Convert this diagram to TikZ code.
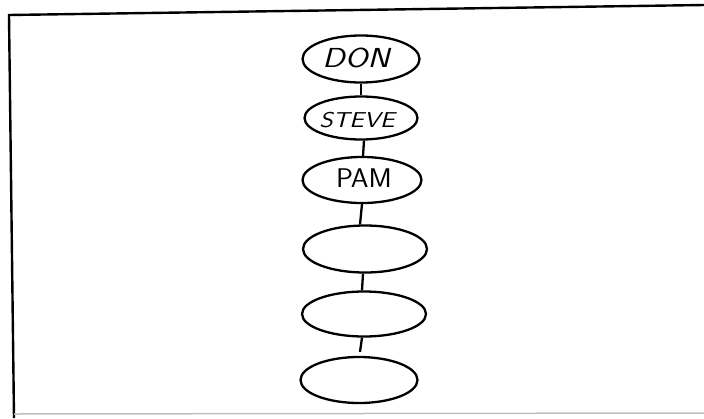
\documentclass[tikz,border=0pt]{standalone}
\usepackage{fontspec}
\usepackage{graphicx}
\usetikzlibrary{shapes.geometric}
\tikzset{
  oval/.style={draw=black, ellipse, line width=2.3pt, inner sep=0pt},
  link/.style={draw=black, line width=2.3pt},
  hand/.style={text=black, inner sep=0pt},
  frame/.style={draw=black, line width=2.4pt}
}
\begin{document}
\begin{tikzpicture}[x=1pt,y=-1pt]
\useasboundingbox (0,0) rectangle (704,418);
% frame
\coordinate (tl) at (9,15);
\coordinate (tr) at (704,5);
\coordinate (bl) at (14,418);
\coordinate (bb) at (14,414);
\coordinate (br) at (704,413);
\draw[frame] (tr) -- (tl) -- (bl);
\draw[draw=black!25, line width=1.5pt] (bb) -- (br);
% ellipses
\node[oval, minimum width=117pt, minimum height=47pt] (e1) at (361,59) {};
\node[oval, minimum width=113pt, minimum height=43pt] (e2) at (361,118) {};
\node[oval, minimum width=119pt, minimum height=46pt] (e3) at (362,180) {};
\node[oval, minimum width=124pt, minimum height=47pt] (e4) at (365,249) {};
\node[oval, minimum width=124pt, minimum height=45pt] (e5) at (364,314) {};
\node[oval, minimum width=117pt, minimum height=46pt] (e6) at (359,380) {};
% labels
\node[hand, font=\sffamily\slshape\fontsize{27.5}{28}\selectfont] (t1) at (356,58) {\scalebox{1.2}[1]{DON}};
\node[hand, font=\sffamily\slshape\fontsize{21.5}{22}\selectfont] (t2) at (357,120) {\scalebox{1.2}[1]{STEVE}};
\node[hand, font=\sffamily\fontsize{27}{28}\selectfont] (t3) at (364,178) {\scalebox{1.05}[1]{PAM}};
% connectors
\draw[link] (e1.south) -- (e2.north);
\draw[link] ([xshift=3pt]e2.south) -- ([xshift=1pt]e3.north);
\draw[link] (e3.south) -- ([xshift=-5pt]e4.north);
\draw[link] ([xshift=-2pt]e4.south) -- ([xshift=-2pt]e5.north);
\draw[link] ([xshift=-2pt]e5.south) -- ([xshift=1pt,yshift=4pt]e6.north);
\end{tikzpicture}
\end{document}
